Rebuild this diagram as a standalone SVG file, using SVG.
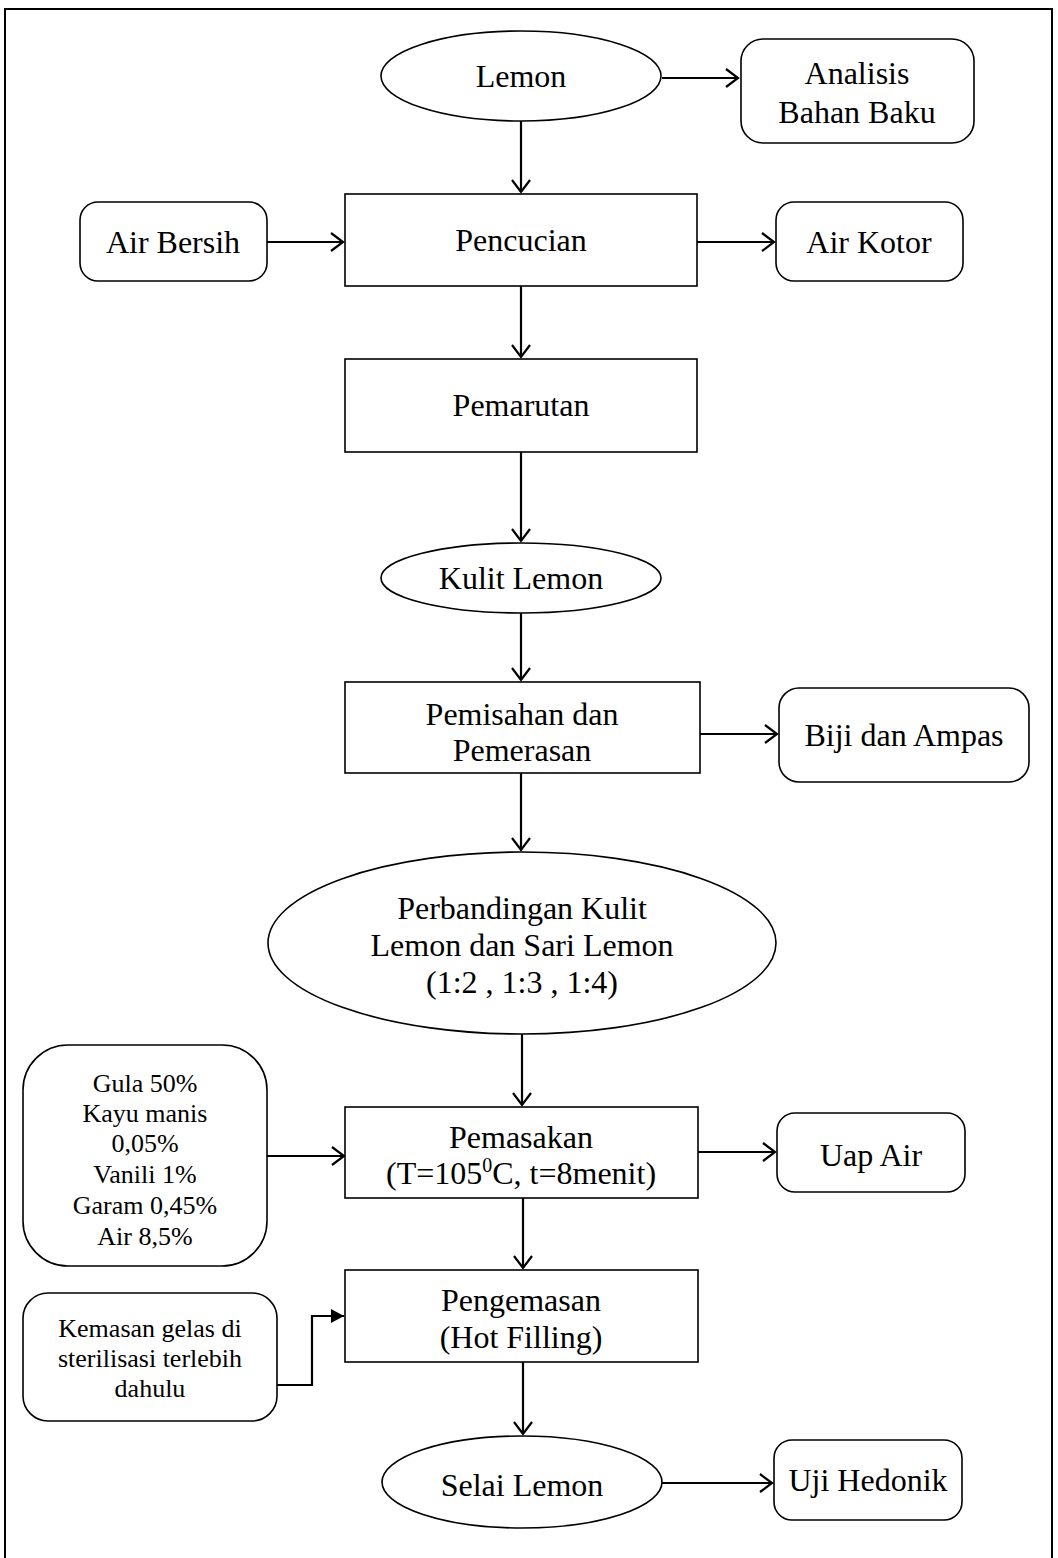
<svg xmlns="http://www.w3.org/2000/svg" width="1058" height="1558" viewBox="0 0 1058 1558">
<defs>
<style>
.s{fill:#fff;stroke:#000;stroke-width:1.6}
.t{font-family:"Liberation Serif","Times New Roman",serif;font-size:32px;fill:#000;text-anchor:middle}
.ts{font-family:"Liberation Serif","Times New Roman",serif;font-size:26px;fill:#000;text-anchor:middle}
.c{fill:none;stroke:#000;stroke-width:2.2}
</style>
<marker id="oa" markerUnits="userSpaceOnUse" markerWidth="20" markerHeight="20" viewBox="-14 -10 16 20" refX="0" refY="0" orient="auto">
<path d="M-12,-9 L0,0 L-12,9" fill="none" stroke="#000" stroke-width="2.2"/>
</marker>
<marker id="fa" markerUnits="userSpaceOnUse" markerWidth="20" markerHeight="20" viewBox="-14 -10 16 20" refX="0" refY="0" orient="auto">
<path d="M-13,-7 L0,0 L-13,7 Z" fill="#000"/>
</marker>
</defs>
<rect x="5" y="9" width="1047" height="1570" fill="#fff" stroke="#000" stroke-width="2"/>
<g id="connectors">
<line class="c" x1="662" y1="78" x2="738" y2="78" marker-end="url(#oa)"/>
<line class="c" x1="521" y1="121" x2="521" y2="192" marker-end="url(#oa)"/>
<line class="c" x1="267" y1="242" x2="343" y2="242" marker-end="url(#oa)"/>
<line class="c" x1="697" y1="242" x2="774" y2="242" marker-end="url(#oa)"/>
<line class="c" x1="521" y1="286" x2="521" y2="357" marker-end="url(#oa)"/>
<line class="c" x1="521" y1="452" x2="521" y2="541" marker-end="url(#oa)"/>
<line class="c" x1="521" y1="613" x2="521" y2="680" marker-end="url(#oa)"/>
<line class="c" x1="700" y1="734" x2="777" y2="734" marker-end="url(#oa)"/>
<line class="c" x1="521" y1="773" x2="521" y2="850" marker-end="url(#oa)"/>
<line class="c" x1="522" y1="1034" x2="522" y2="1105" marker-end="url(#oa)"/>
<line class="c" x1="267" y1="1156" x2="344" y2="1156" marker-end="url(#oa)"/>
<line class="c" x1="698" y1="1152" x2="775" y2="1152" marker-end="url(#oa)"/>
<line class="c" x1="523" y1="1198" x2="523" y2="1268" marker-end="url(#oa)"/>
<path class="c" d="M277,1385 H312 V1316 H344" stroke-width="3" marker-end="url(#fa)"/>
<line class="c" x1="523" y1="1362" x2="523" y2="1434" marker-end="url(#oa)"/>
<line class="c" x1="662" y1="1483" x2="772" y2="1483" marker-end="url(#oa)"/>
</g>
<g id="lemon"><ellipse class="s" cx="521" cy="76" rx="140" ry="45"/><text class="t" x="521" y="87">Lemon</text></g>
<g id="analisis"><rect class="s" x="741" y="39" width="233" height="104" rx="22"/><text class="t" x="857" y="84">Analisis</text><text class="t" x="857" y="123">Bahan Baku</text></g>
<g id="pencucian"><rect class="s" x="345" y="194" width="352" height="92"/><text class="t" x="521" y="251">Pencucian</text></g>
<g id="air-bersih"><rect class="s" x="80" y="202" width="187" height="79" rx="18"/><text class="t" x="173" y="253">Air Bersih</text></g>
<g id="air-kotor"><rect class="s" x="776" y="202" width="187" height="79" rx="18"/><text class="t" x="869" y="253">Air Kotor</text></g>
<g id="pemarutan"><rect class="s" x="345" y="359" width="352" height="93"/><text class="t" x="521" y="416">Pemarutan</text></g>
<g id="kulit-lemon"><ellipse class="s" cx="521" cy="578" rx="140" ry="35"/><text class="t" x="521" y="589">Kulit Lemon</text></g>
<g id="pemisahan"><rect class="s" x="345" y="682" width="355" height="91"/><text class="t" x="522" y="725">Pemisahan dan</text><text class="t" x="522" y="761">Pemerasan</text></g>
<g id="biji"><rect class="s" x="779" y="688" width="250" height="94" rx="20"/><text class="t" x="904" y="746">Biji dan Ampas</text></g>
<g id="perbandingan"><ellipse class="s" cx="522" cy="943" rx="254" ry="91"/><text class="t" x="522" y="919">Perbandingan Kulit</text><text class="t" x="522" y="956">Lemon dan Sari Lemon</text><text class="t" x="522" y="993">(1:2 , 1:3 , 1:4)</text></g>
<g id="gula"><rect class="s" x="23" y="1045" width="244" height="221" rx="45"/>
<text class="ts" x="145" y="1092">Gula 50%</text><text class="ts" x="145" y="1122">Kayu manis</text><text class="ts" x="145" y="1152">0,05%</text><text class="ts" x="145" y="1183">Vanili 1%</text><text class="ts" x="145" y="1214">Garam 0,45%</text><text class="ts" x="145" y="1245">Air 8,5%</text></g>
<g id="pemasakan"><rect class="s" x="345" y="1107" width="353" height="91"/><text class="t" x="521" y="1148">Pemasakan</text><text class="t" x="521" y="1184">(T=105<tspan font-size="20" dy="-12">0</tspan><tspan dy="12">C, t=8menit)</tspan></text></g>
<g id="uap-air"><rect class="s" x="777" y="1113" width="188" height="79" rx="18"/><text class="t" x="871" y="1166">Uap Air</text></g>
<g id="pengemasan"><rect class="s" x="345" y="1270" width="353" height="92"/><text class="t" x="521" y="1311">Pengemasan</text><text class="t" x="521" y="1348">(Hot Filling)</text></g>
<g id="kemasan"><rect class="s" x="23" y="1293" width="254" height="128" rx="25"/><text class="ts" x="150" y="1337">Kemasan gelas di</text><text class="ts" x="150" y="1367">sterilisasi terlebih</text><text class="ts" x="150" y="1397">dahulu</text></g>
<g id="selai"><ellipse class="s" cx="522" cy="1482" rx="140" ry="46"/><text class="t" x="522" y="1496">Selai Lemon</text></g>
<g id="uji"><rect class="s" x="774" y="1440" width="188" height="80" rx="18"/><text class="t" x="868" y="1491">Uji Hedonik</text></g>
</svg>
